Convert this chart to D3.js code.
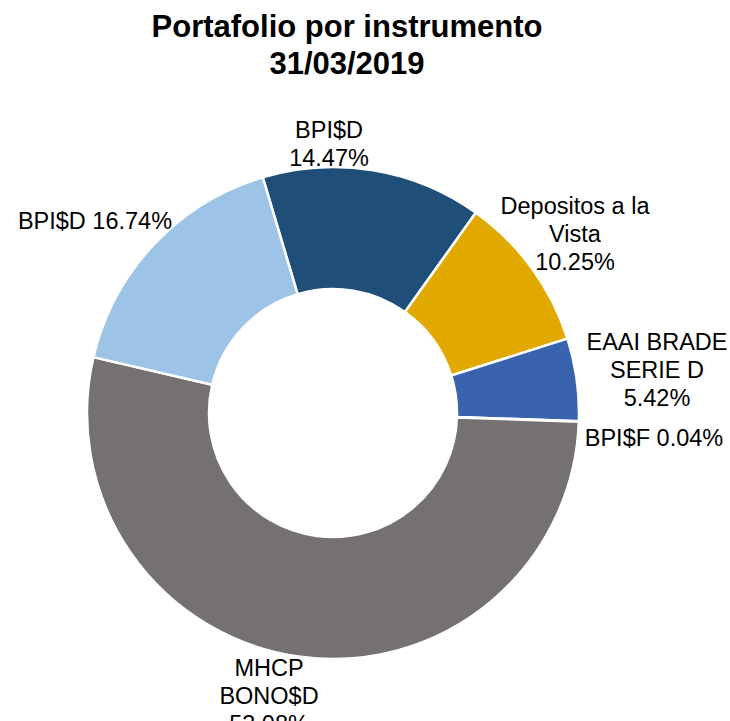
<!DOCTYPE html>
<html lang="es">
<head>
<meta charset="UTF-8">
<title>Portafolio por instrumento</title>
<script src="https://d3js.org/d3.v7.min.js"></script>
<style>
  body { margin: 0; background: #fff; }
  #chart svg { font-family: "Liberation Sans", Arial, sans-serif; }
</style>
</head>
<body>
<div id="chart"></div>
<script>
// slices in clockwise order, starting at the BPI$D 14.47% slice
var names   = ["BPI$D", "Depositos a la Vista", "EAAI BRADE SERIE D", "BPI$F", "MHCP BONO$D", "BPI$D"];
var values  = [14.47, 10.25, 5.42, 0.04, 53.08, 16.74];
var colors  = ["#1F4E79", "#E1A900", "#3A63AD", "#70AD47", "#767171", "#9DC3E6"];
// label text lines, as in the original data labels
var labelLines = [
    ["BPI$D", "14.47%"],
    ["Depositos a la", "Vista", "10.25%"],
    ["EAAI BRADE", "SERIE D", "5.42%"],
    ["BPI$F 0.04%"],
    ["MHCP", "BONO$D", "53.08%"],
    ["BPI$D 16.74%"]
];

var width = 730, height = 721;
var cx = 333, cy = 413, outerR = 246, innerR = 124;
var lineH = 28;

// where each label block sits (centre x, first baseline)
var labelPos = [[329, 138], [575, 214], [657, 350], [654, 446], [269, 676], [95, 229]];

var svg = d3.select("#chart").append("svg")
    .attr("width", width)
    .attr("height", height);

svg.append("text")
    .attr("x", 347).attr("y", 37)
    .attr("text-anchor", "middle")
    .style("font-weight", "bold")
    .style("font-size", "31px")
    .text("Portafolio por instrumento");
svg.append("text")
    .attr("x", 347).attr("y", 74)
    .attr("text-anchor", "middle")
    .style("font-weight", "bold")
    .style("font-size", "31px")
    .text("31/03/2019");

var start = -16.6 * Math.PI / 180;
var pie = d3.pie().sort(null).value(d => d)
    .startAngle(start).endAngle(start + 2 * Math.PI);
var arc = d3.arc().innerRadius(innerR).outerRadius(outerR);

var g = svg.append("g").attr("transform", `translate(${cx},${cy})`);
g.selectAll("path")
    .data(pie(values))
    .enter()
    .append("path")
    .attr("d", arc)
    .attr("fill", (d, i) => colors[i])
    .attr("stroke", "white")
    .attr("stroke-width", 2.5);

var labels = svg.selectAll(".lbl")
    .data(labelLines)
    .enter()
    .append("text")
    .attr("class", "lbl")
    .attr("text-anchor", "middle")
    .style("font-size", "23.5px")
    .attr("fill", "#000");

labels.each(function(lines, i) {
    var t = d3.select(this);
    lines.forEach(function(s, j) {
        t.append("tspan")
            .attr("x", labelPos[i][0])
            .attr("y", labelPos[i][1] + j * lineH)
            .text(s);
    });
});
</script>
</body>
</html>
